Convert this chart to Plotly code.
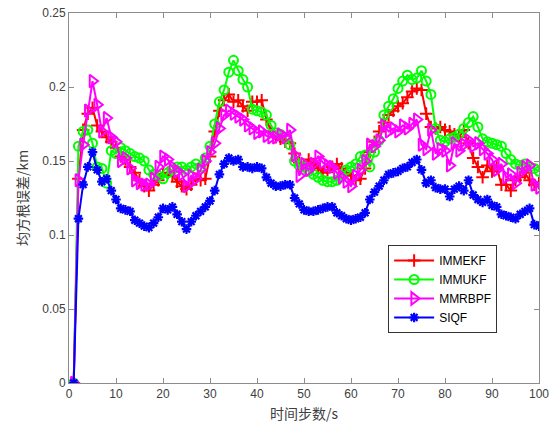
import plotly.graph_objects as go

steps = list(range(1, 101))

immekf = [0, 0.138, 0.171, 0.182, 0.186, 0.174, 0.170, 0.166, 0.163, 0.159,
          0.153, 0.151, 0.146, 0.142, 0.137, 0.133, 0.130, 0.134, 0.137, 0.141,
          0.142, 0.140, 0.136, 0.133, 0.131, 0.134, 0.138, 0.137, 0.138, 0.153,
          0.170, 0.184, 0.191, 0.195, 0.190, 0.191, 0.187, 0.184, 0.190, 0.190,
          0.191, 0.178, 0.170, 0.166, 0.165, 0.163, 0.162, 0.155, 0.149, 0.147,
          0.151, 0.148, 0.145, 0.142, 0.144, 0.146, 0.148, 0.145, 0.142, 0.140,
          0.137, 0.138, 0.145, 0.156, 0.163, 0.170, 0.176, 0.181, 0.184, 0.187,
          0.189, 0.193, 0.197, 0.199, 0.198, 0.182, 0.173, 0.172, 0.173, 0.171,
          0.170, 0.168, 0.166, 0.171, 0.162, 0.152, 0.146, 0.139, 0.147, 0.143,
          0.146, 0.134, 0.134, 0.130, 0.137, 0.139, 0.142, 0.137, 0.134, 0.135]

immukf = [0, 0.160, 0.170, 0.171, 0.162, 0.146, 0.145, 0.135, 0.157, 0.155,
          0.159, 0.157, 0.155, 0.153, 0.152, 0.150, 0.144, 0.141, 0.140, 0.138,
          0.142, 0.144, 0.146, 0.146, 0.144, 0.146, 0.148, 0.146, 0.152, 0.160,
          0.175, 0.190, 0.198, 0.210, 0.218, 0.211, 0.205, 0.200, 0.185, 0.184,
          0.183, 0.181, 0.174, 0.169, 0.168, 0.166, 0.161, 0.150, 0.147, 0.146,
          0.143, 0.141, 0.139, 0.137, 0.136, 0.136, 0.137, 0.140, 0.144, 0.146,
          0.148, 0.153, 0.154, 0.146, 0.156, 0.164, 0.181, 0.187, 0.192, 0.199,
          0.204, 0.208, 0.205, 0.206, 0.211, 0.204, 0.195, 0.172, 0.164, 0.163,
          0.165, 0.166, 0.168, 0.172, 0.176, 0.180, 0.173, 0.165, 0.163, 0.162,
          0.161, 0.160, 0.155, 0.151, 0.148, 0.147, 0.148, 0.146, 0.145, 0.143]

mmrbpf = [0, 0.137, 0.161, 0.184, 0.204, 0.188, 0.170, 0.179, 0.166, 0.163,
          0.150, 0.152, 0.145, 0.137, 0.135, 0.134, 0.134, 0.138, 0.146, 0.153,
          0.151, 0.146, 0.143, 0.141, 0.133, 0.140, 0.138, 0.144, 0.150, 0.156,
          0.162, 0.172, 0.181, 0.184, 0.182, 0.180, 0.178, 0.174, 0.172, 0.169,
          0.170, 0.167, 0.166, 0.166, 0.168, 0.166, 0.171, 0.154, 0.140, 0.148,
          0.144, 0.148, 0.153, 0.149, 0.147, 0.146, 0.142, 0.139, 0.136, 0.133,
          0.140, 0.144, 0.150, 0.161, 0.160, 0.164, 0.174, 0.170, 0.172, 0.170,
          0.174, 0.172, 0.175, 0.178, 0.161, 0.158, 0.171, 0.155, 0.158, 0.157,
          0.147, 0.162, 0.157, 0.161, 0.164, 0.160, 0.162, 0.158, 0.155, 0.151,
          0.144, 0.148, 0.139, 0.141, 0.135, 0.142, 0.146, 0.147, 0.134, 0.132]

siqf = [0, 0.111, 0.134, 0.146, 0.156, 0.144, 0.136, 0.138, 0.130, 0.124,
        0.118, 0.117, 0.116, 0.110, 0.108, 0.106, 0.105, 0.108, 0.112, 0.118,
        0.117, 0.119, 0.114, 0.109, 0.104, 0.109, 0.113, 0.116, 0.119, 0.123,
        0.130, 0.141, 0.148, 0.152, 0.150, 0.151, 0.146, 0.146, 0.145, 0.146,
        0.145, 0.139, 0.135, 0.133, 0.133, 0.134, 0.134, 0.125, 0.121, 0.117,
        0.116, 0.116, 0.117, 0.118, 0.119, 0.119, 0.115, 0.113, 0.111, 0.110,
        0.111, 0.112, 0.115, 0.124, 0.129, 0.133, 0.137, 0.141, 0.142, 0.143,
        0.145, 0.146, 0.149, 0.151, 0.144, 0.135, 0.137, 0.132, 0.131, 0.131,
        0.126, 0.131, 0.133, 0.130, 0.137, 0.127, 0.124, 0.122, 0.124, 0.120,
        0.119, 0.114, 0.113, 0.112, 0.111, 0.114, 0.116, 0.118, 0.107, 0.106]

x_ticks = [0, 10, 20, 30, 40, 50, 60, 70, 80, 90, 100]
y_ticks = [0, 0.05, 0.1, 0.15, 0.2, 0.25]
y_tick_text = ["0", "0.05", "0.1", "0.15", "0.2", "0.25"]

series = [
    ("IMMEKF", immekf, "#ff0000", "cross-thin-open", 9, 2),
    ("IMMUKF", immukf, "#00ff00", "circle-open", 9, 2),
    ("MMRBPF", mmrbpf, "#ff00ff", "triangle-right-open", 11, 2),
    ("SIQF", siqf, "#0000ff", "asterisk-open", 8, 2.2),
]

fig = go.Figure()
for name, vals, color, sym, size, mlw in series:
    fig.add_trace(go.Scatter(
        x=steps, y=vals, name=name, mode="lines+markers",
        line=dict(color=color, width=2),
        marker=dict(symbol=sym, size=size, color=color,
                    line=dict(color=color, width=mlw)),
    ))

axis_common = dict(
    showline=True, linecolor="#8c8c8c", linewidth=1, mirror="ticks",
    ticks="inside", ticklen=5, tickcolor="#8c8c8c", showgrid=False, zeroline=False,
    automargin=False,
    tickfont=dict(family="Liberation Sans, Arial, sans-serif", size=12, color="#404040"),
)

fig.update_layout(
    width=555, height=433,
    margin=dict(l=69, r=16, t=13, b=50, autoexpand=False),
    paper_bgcolor="white", plot_bgcolor="white",
    xaxis=dict(range=[0, 100], tickvals=x_ticks,
               title=dict(text="时间步数/s", standoff=8,
                          font=dict(family="Noto Sans CJK SC", size=14, color="#404040")),
               **axis_common),
    yaxis=dict(range=[0, 0.25], tickvals=y_ticks, ticktext=y_tick_text,
               title=dict(text="均方根误差/km", standoff=10,
                          font=dict(family="Noto Sans CJK SC", size=14, color="#404040")),
               **axis_common),
    legend=dict(x=0.679, y=0.373, xanchor="left", yanchor="top",
                bgcolor="white", bordercolor="#333333", borderwidth=1,
                font=dict(family="Liberation Sans, Arial, sans-serif", size=12, color="#000000"),
                tracegroupgap=0, itemwidth=40),
    showlegend=True,
)

fig.write_html("out.html")
